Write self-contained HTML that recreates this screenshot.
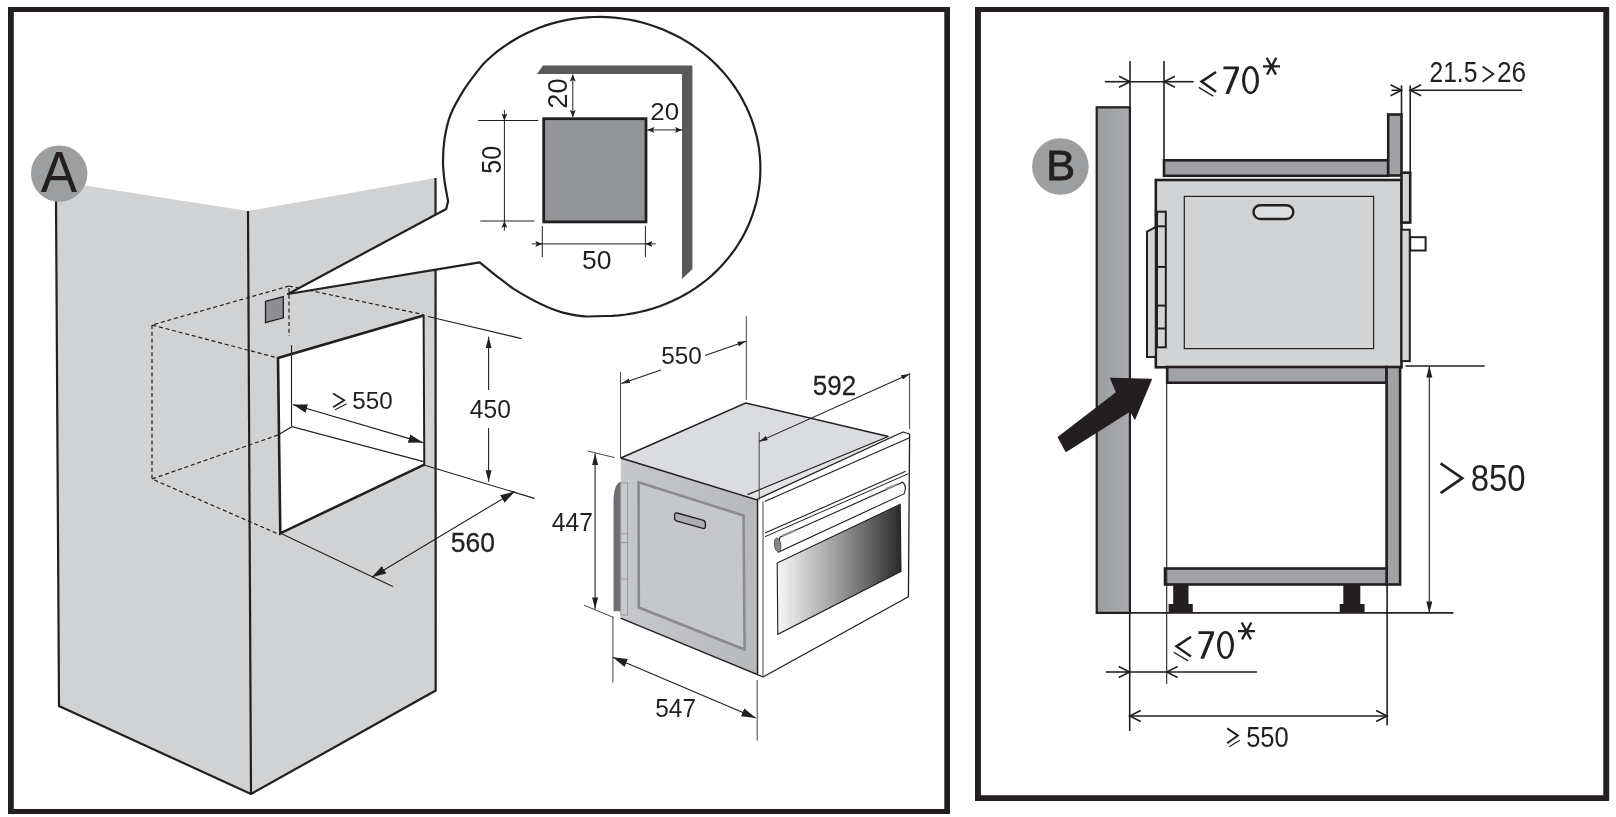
<!DOCTYPE html>
<html><head><meta charset="utf-8">
<style>
html,body{margin:0;padding:0;background:#fff;width:1616px;height:817px;overflow:hidden}
svg{display:block}
text{font-family:"Liberation Sans",sans-serif;fill:#231f20}
</style></head><body>
<svg width="1616" height="817" viewBox="0 0 1616 817">
<defs>
<marker id="af" markerUnits="userSpaceOnUse" markerWidth="15" markerHeight="9" refX="14.5" refY="4.3" orient="auto-start-reverse"><path d="M0,0 L14.5,4.3 L0,8.6 z" fill="#231f20"/></marker>
<marker id="afs" markerUnits="userSpaceOnUse" markerWidth="12" markerHeight="7" refX="11.5" refY="3" orient="auto-start-reverse"><path d="M0,0 L11.5,3 L0,6 z" fill="#231f20"/></marker>
<marker id="am" markerUnits="userSpaceOnUse" markerWidth="9" markerHeight="5" refX="8.5" refY="2.4" orient="auto-start-reverse"><path d="M0,0 L8.5,2.4 L0,4.8 z" fill="#231f20"/></marker>
<marker id="at" markerUnits="userSpaceOnUse" markerWidth="7" markerHeight="6" refX="7" refY="3" orient="auto-start-reverse"><path d="M0,0 L7,3 L0,6 L1.5,3 z" fill="#231f20"/></marker>
<marker id="ao" markerUnits="userSpaceOnUse" markerWidth="14" markerHeight="14" refX="12" refY="7" orient="auto-start-reverse"><path d="M1,1.5 L12,7 L1,12.5" fill="none" stroke="#231f20" stroke-width="1.6"/></marker>
<linearGradient id="gwall" x1="0" x2="1" y1="0" y2="0"><stop offset="0" stop-color="#9a9c9f"/><stop offset="1" stop-color="#a9abae"/></linearGradient>
<linearGradient id="gwin" x1="0" x2="1" y1="0" y2="0"><stop offset="0" stop-color="#f8f8f8"/><stop offset="0.5" stop-color="#9a9a9b"/><stop offset="1" stop-color="#2a2a2a"/></linearGradient>
<linearGradient id="gside" x1="0" x2="1" y1="0" y2="0"><stop offset="0" stop-color="#c6c7ca"/><stop offset="1" stop-color="#b8b9bc"/></linearGradient>
</defs>

<!-- frames -->
<path fill="#231f20" fill-rule="evenodd" d="M8,7 H950 V814 H8 Z M13.8,11.9 V808.9 H944.3 V11.9 Z"/>
<path fill="#231f20" fill-rule="evenodd" d="M975,7 H1609.2 V801 H975 Z M980.9,11.9 V795.2 H1603.3 V11.9 Z"/>

<!-- ============ PANEL A ============ -->
<g id="cabA">
<polygon points="56,181 248,211 251,794 59,706" fill="#d1d2d4"/>
<polygon points="248,211 435.5,178 435.7,690.5 251,794" fill="#d1d2d4"/>
<polyline points="56,200 59,706 251,794 435.7,690.5 435.5,178" fill="none" stroke="#231f20" stroke-width="2.2"/>
<line x1="248" y1="211" x2="251" y2="794" stroke="#231f20" stroke-width="2.2"/>
<!-- niche opening -->
<polygon points="278,358 423.6,315.4 424.3,464.6 280.3,533.3" fill="#fff"/>
<polyline points="423.6,315.4 278,358 280.3,533.3 424.3,464.6" fill="none" stroke="#231f20" stroke-width="2.6"/>
<line x1="423.6" y1="314.5" x2="424.3" y2="465" stroke="#231f20" stroke-width="2"/>
<!-- dashed hidden lines -->
<g stroke="#231f20" stroke-width="1.2" stroke-dasharray="4,2.8" fill="none">
<polyline points="289,286 152,325 278,358"/>
<line x1="152" y1="325" x2="152" y2="479"/>
<polyline points="278,435 152,479 280.5,535"/>
<line x1="289" y1="286" x2="423.5" y2="314.6"/>
<line x1="289" y1="288" x2="289" y2="336"/>
</g>
<g stroke="#231f20" stroke-width="1.1" fill="none">
<polyline points="278,435 292,426.7 423.6,461.6"/>
<line x1="291.5" y1="345" x2="291.5" y2="426"/>
<line x1="428" y1="316.5" x2="521.6" y2="338.6"/>
<line x1="424" y1="465" x2="534.5" y2="498.4"/>
<line x1="280" y1="533" x2="392.8" y2="586.5"/>
<line x1="292.9" y1="404.5" x2="422.9" y2="442.6" marker-start="url(#af)" marker-end="url(#af)"/>
<line x1="488.6" y1="336.7" x2="488.6" y2="390" marker-start="url(#afs)"/>
<line x1="488.6" y1="428" x2="488.6" y2="481.8" marker-end="url(#afs)"/>
<line x1="514.8" y1="491.5" x2="371.8" y2="577.2" marker-start="url(#af)" marker-end="url(#af)"/>
</g>
<polygon points="265.5,301.4 283.3,296.5 283.3,317.8 265.5,322.7" fill="#8d8e91" stroke="#231f20" stroke-width="1.3"/>
</g>
<!-- A circle -->
<circle cx="59.2" cy="173.6" r="28.2" fill="#9d9ea0"/>

<!-- bubble -->
<path d="M446.2,209 L288,294 L479.7,262.4 L494.4,274.4 C503,281 508,285 514,289.1 C530,299 550,309 562.9,312.6 C572,315 580,316.3 587.4,316.5 L605.0,316.0 L612.0,315.8 L619.0,315.3 L625.9,314.5 L632.8,313.4 L639.6,312.0 L646.4,310.4 L653.0,308.5 L659.6,306.3 L666.1,303.8 L672.4,301.1 L678.6,298.1 L684.6,294.8 L690.5,291.4 L696.2,287.6 L701.7,283.7 L707.1,279.5 L712.2,275.1 L717.1,270.4 L721.8,265.6 L726.2,260.6 L730.4,255.4 L734.4,250.1 L738.1,244.5 L741.5,238.9 L744.7,233.0 L747.6,227.1 L750.2,221.0 L752.5,214.9 L754.5,208.6 L756.3,202.3 L757.7,195.9 L758.8,189.4 L759.7,182.9 L760.2,176.3 L760.4,169.8 L760.3,163.2 L759.9,156.7 L759.2,150.1 L758.2,143.6 L756.8,137.1 L755.2,130.7 L753.3,124.4 L751.1,118.1 L748.6,112.0 L745.8,105.9 L742.7,99.9 L739.4,94.1 L735.8,88.5 L731.9,82.9 L727.8,77.6 L723.5,72.4 L718.9,67.4 L714.0,62.5 L709.0,57.9 L703.7,53.5 L698.3,49.3 L692.7,45.3 L686.8,41.6 L680.9,38.1 L674.7,34.9 L668.4,31.9 L662.0,29.1 L655.5,26.7 L648.9,24.5 L642.2,22.5 L635.4,20.9 L628.5,19.5 L621.6,18.5 L614.6,17.7 L607.6,17.1 L600.6,16.9 L593.6,17.0 L586.6,17.3 L579.7,18.0 L572.8,18.9 L565.9,20.1 L559.1,21.6 L552.4,23.4 L545.8,25.4 L539.2,27.8 L532.8,30.4 L526.6,33.2 L520.5,36.3 L514.5,39.7 L508.7,43.3 L503.1,47.1 L497.6,51.2 L492.4,55.5 L487.4,60.0 L482.6,64.7 C478.7,69.6 469.5,81.0 464.2,89.4 C458.9,97.8 453.8,106.7 450.5,114.9 C447.2,123.1 445.9,130.6 444.6,138.4 C443.4,146.2 443.0,154.8 443.0,162.0 C443.0,169.2 443.8,175.1 444.6,181.6 C445.5,188.1 447.5,197.9 448.1,201.2 Z" fill="#fff" stroke="#231f20" stroke-width="2.2" stroke-linejoin="round"/>
<polygon points="543,65.6 692.4,65.6 692.4,269 682,279 682,74.1 537,74.1" fill="#58595b"/>
<rect x="543.7" y="118.7" width="102.3" height="103.2" fill="#939598" stroke="#231f20" stroke-width="2.8"/>
<g stroke="#231f20" stroke-width="1" fill="none">
<line x1="504.4" y1="110.2" x2="504.4" y2="120.5" marker-end="url(#at)"/>
<line x1="504.4" y1="120.5" x2="504.4" y2="221"/>
<line x1="504.4" y1="230.7" x2="504.4" y2="221" marker-end="url(#at)"/>
<line x1="478.2" y1="120.5" x2="538.2" y2="120.5"/>
<line x1="480.3" y1="221" x2="534.6" y2="221"/>
<line x1="572.8" y1="74.5" x2="572.8" y2="117" marker-start="url(#at)" marker-end="url(#at)"/>
<line x1="647.4" y1="129.9" x2="682" y2="129.9" marker-start="url(#at)" marker-end="url(#at)"/>
<line x1="531.7" y1="243.9" x2="542.3" y2="243.9" marker-end="url(#at)"/>
<line x1="542.3" y1="243.9" x2="645.4" y2="243.9"/>
<line x1="655.7" y1="243.9" x2="645.4" y2="243.9" marker-end="url(#at)"/>
<line x1="542.3" y1="226" x2="542.3" y2="257"/>
<line x1="645.4" y1="226" x2="645.4" y2="257"/>
</g>

<!-- oven A -->
<g id="ovenA">
<polygon points="620.8,458 745.6,403 888.4,436.5 903,432 909.6,434 909.6,438 764.7,501.4 758,499" fill="#dbdcdf"/>
<polygon points="747.6,494.6 888.4,436.5 903,432 758.7,498" fill="#e2e3e5"/>
<polyline points="620.8,458 745.6,403 888.4,436.5" fill="none" stroke="#231f20" stroke-width="1.5"/>
<polygon points="620.8,458 757.6,500 757.6,674.7 620.6,618.1" fill="url(#gside)"/>
<polyline points="620.8,458 757.6,500 757.6,674.7 620.6,618.1" fill="none" stroke="#231f20" stroke-width="1.5"/>
<polygon points="638.6,482.3 743.5,515.5 744.6,649.5 638.8,607.5" fill="#c6c7ca" stroke="#8b8c8f" stroke-width="2.6"/>
<path d="M674.6,514.8 Q674.6,512.4 677,513 L702.8,520.2 Q705.4,520.9 705.4,523.4 L705.4,526.6 Q705.4,529 703,528.4 L677,521.2 Q674.6,520.6 674.6,518.3 Z" fill="#adaeb1" stroke="#231f20" stroke-width="1.3"/>
<path d="M613.5,500 Q614,484 620.8,481.6 L620.8,611.3 L613.5,611.3 Z" fill="#6e6f72"/>
<rect x="620.8" y="482.8" width="6.8" height="132.2" fill="#c9cacc" stroke="#9a9b9e" stroke-width="1"/>
<g stroke="#9a9b9e" stroke-width="1"><line x1="621" y1="533.7" x2="627.6" y2="533.7"/><line x1="621" y1="542.5" x2="627.6" y2="542.5"/><line x1="621" y1="579" x2="627.6" y2="579"/></g>
<polygon points="757.6,499 903,432 909.6,434 908.4,596.8 763,677 757.6,674.7" fill="#fff" stroke="#231f20" stroke-width="1.3" stroke-linejoin="round"/>
<line x1="747.6" y1="494.6" x2="888.4" y2="436.5" stroke="#231f20" stroke-width="1.2"/>
<line x1="764.7" y1="501.4" x2="909" y2="438" stroke="#231f20" stroke-width="1.1"/>
<line x1="763" y1="501.4" x2="763" y2="677" stroke="#555" stroke-width="1.1"/>
<line x1="765" y1="533" x2="905.7" y2="471.2" stroke="#231f20" stroke-width="1.1"/>
<line x1="765" y1="536.7" x2="908.4" y2="473.7" stroke="#231f20" stroke-width="1"/>
<path d="M779.7,537.3 L902.6,482.2 Q907.5,486 903.9,493.9 L778.5,552 Z" fill="#fbfbfb" stroke="#231f20" stroke-width="1.1"/>
<path d="M782,536 L795,530.5" stroke="#8d8e91" stroke-width="2"/>
<path d="M886,489 L897,484.5" stroke="#8d8e91" stroke-width="2"/>
<ellipse cx="777.6" cy="545" rx="3.2" ry="7" fill="#85868a" stroke="#444" stroke-width="0.8" transform="rotate(-8 777.6 545)"/>
<polygon points="777.2,563 900.2,504.3 901,571.3 777.8,634.3" fill="url(#gwin)" stroke="#231f20" stroke-width="1.1"/>
</g>
<g stroke="#231f20" stroke-width="1.1" fill="none">
<g stroke="#444" stroke-width="1">
<line x1="620.5" y1="371.8" x2="620.5" y2="458"/>
<line x1="746.3" y1="316.2" x2="746.3" y2="399.9"/>
<line x1="909.6" y1="372.8" x2="909.6" y2="429"/>
<line x1="759.2" y1="432.1" x2="759.2" y2="500"/>
<line x1="587.7" y1="451" x2="614.6" y2="457.6"/>
<line x1="584" y1="605.2" x2="613.4" y2="617.4"/>
<line x1="612.9" y1="616.7" x2="612.9" y2="682.7"/>
<line x1="757.2" y1="680" x2="757.2" y2="740.6"/>
</g>
<line x1="621.5" y1="383.6" x2="661" y2="370" marker-start="url(#am)"/>
<line x1="705" y1="355.6" x2="746" y2="341.2" marker-end="url(#am)"/>
<line x1="759.2" y1="441.5" x2="909.6" y2="373.9" marker-start="url(#am)" marker-end="url(#am)"/>
<line x1="595.1" y1="453.5" x2="595.1" y2="608.9" marker-start="url(#afs)" marker-end="url(#afs)"/>
<line x1="612.9" y1="657.3" x2="755.9" y2="718" marker-start="url(#af)" marker-end="url(#af)"/>
</g>

<!-- ============ PANEL B ============ -->
<g id="panelB">
<rect x="1096.7" y="107.3" width="33.2" height="505.6" fill="url(#gwall)" stroke="#231f20" stroke-width="2.2"/>
<circle cx="1060.4" cy="166.5" r="28.3" fill="#9d9ea0"/>
<rect x="1164" y="160.3" width="224.2" height="15.5" fill="#a1a2a5" stroke="#231f20" stroke-width="2.6"/>
<rect x="1388.2" y="114.5" width="13.3" height="61" fill="#a1a2a5" stroke="#231f20" stroke-width="2.6"/>
<rect x="1155.8" y="180" width="245.7" height="187.3" fill="#d1d3d4" stroke="#231f20" stroke-width="2.6"/>
<rect x="1184.3" y="196.4" width="189.3" height="152.2" fill="#d1d3d4" stroke="#231f20" stroke-width="1.2"/>
<rect x="1253.5" y="205.2" width="39.8" height="13.8" rx="6.9" fill="#dcdddf" stroke="#231f20" stroke-width="2.4"/>
<polygon points="1147,231.6 1155.8,226.9 1155.8,357 1147,357" fill="#d1d3d4" stroke="#231f20" stroke-width="2"/>
<rect x="1157" y="211.7" width="8.8" height="135.6" fill="#d1d3d4" stroke="#231f20" stroke-width="2"/>
<g stroke="#231f20" stroke-width="2"><line x1="1157" y1="226.3" x2="1165.8" y2="226.3"/><line x1="1157" y1="266.9" x2="1165.8" y2="266.9"/><line x1="1157" y1="305.6" x2="1165.8" y2="305.6"/><line x1="1157" y1="328.5" x2="1165.8" y2="328.5"/></g>
<rect x="1401.5" y="172.7" width="8.7" height="49.9" fill="#d1d3d4" stroke="#231f20" stroke-width="2.6"/>
<rect x="1401.5" y="229.7" width="8.3" height="131.4" fill="#d1d3d4" stroke="#231f20" stroke-width="2"/>
<rect x="1410.2" y="237.2" width="15.4" height="13.3" fill="#fff" stroke="#231f20" stroke-width="2"/>
<rect x="1167.2" y="367" width="219.4" height="15.7" fill="#a1a2a5" stroke="#231f20" stroke-width="2.6"/>
<rect x="1386.6" y="367" width="13.5" height="217.5" fill="#a1a2a5" stroke="#231f20" stroke-width="2.6"/>
<rect x="1165" y="568.5" width="221.6" height="16" fill="#a1a2a5" stroke="#231f20" stroke-width="2.6"/>
<g fill="#231f20">
<rect x="1173.2" y="584.5" width="15.3" height="21"/><rect x="1168.6" y="604" width="24.2" height="9"/>
<rect x="1343.3" y="584.5" width="17" height="21"/><rect x="1339.7" y="604" width="24.9" height="9"/>
</g>
<polygon points="1058.3,437.2 1116.6,392.6 1110.6,378.3 1151.3,379.4 1134.8,419 1130.4,410.7 1066,451.5" fill="#231f20" stroke="#231f20" stroke-width="1.2" stroke-linejoin="round"/>
<g stroke="#231f20" stroke-width="1.6" fill="none">
<line x1="1096" y1="612.9" x2="1453.4" y2="612.9"/>
<line x1="1130" y1="61" x2="1130" y2="107"/>
<line x1="1164" y1="61" x2="1164" y2="161"/>
<line x1="1104.8" y1="81.7" x2="1130" y2="81.7" marker-end="url(#ao)"/>
<line x1="1130" y1="81.7" x2="1164" y2="81.7"/>
<line x1="1193.7" y1="81.7" x2="1164" y2="81.7" marker-end="url(#ao)"/>
<line x1="1401.5" y1="85.4" x2="1401.5" y2="114"/>
<line x1="1410.2" y1="85.4" x2="1410.2" y2="172"/>
<line x1="1391.5" y1="90.3" x2="1401.5" y2="90.3" marker-end="url(#ao)"/>
<line x1="1522.1" y1="90.3" x2="1410.2" y2="90.3" marker-end="url(#ao)"/>
<line x1="1405.5" y1="366" x2="1484.7" y2="366"/>
<line x1="1429.3" y1="366" x2="1429.3" y2="612.9" stroke-width="1.1" marker-start="url(#afs)" marker-end="url(#afs)"/>
<line x1="1129.7" y1="612.7" x2="1129.7" y2="731"/>
<line x1="1166.7" y1="382.7" x2="1166.7" y2="683.7" stroke-width="1.1"/>
<line x1="1387.1" y1="584.5" x2="1387.1" y2="725.5"/>
<line x1="1105.9" y1="672" x2="1129.7" y2="672" marker-end="url(#ao)"/>
<line x1="1129.7" y1="672" x2="1166.7" y2="672"/>
<line x1="1257" y1="672" x2="1166.7" y2="672" marker-end="url(#ao)"/>
<line x1="1129.7" y1="716" x2="1387.1" y2="716" marker-start="url(#ao)" marker-end="url(#ao)"/>
</g>
</g>

<!-- custom glyphs -->
<g fill="none" stroke="#231f20" stroke-linecap="butt" stroke-linejoin="miter">
<polyline points="333.1,393.4 344.2,400.3 333.1,407.3" stroke-width="1.8"/>
<line x1="335" y1="409.8" x2="346.6" y2="403.8" stroke-width="1.1"/>
<polyline points="1227.2,728.4 1237.9,735.6 1227.2,743.3" stroke-width="1.9"/>
<line x1="1229.2" y1="746.7" x2="1239.8" y2="740.2" stroke-width="1.1"/>
<polyline points="1440.6,463.4 1462.2,478.2 1440.6,493.1" stroke-width="2.7"/>
<polyline points="1482.6,66.4 1493.4,74 1482.6,81.7" stroke-width="1.8"/>
</g>

<g id="g70">
<polyline points="1216,72.0 1201.5,81.6 1216,91.8" fill="none" stroke="#231f20" stroke-width="2.5"/>
<line x1="1198.7" y1="87.4" x2="1213.2" y2="96.1" stroke="#231f20" stroke-width="1.3"/>
<polygon points="1223.4,66.4 1238.9,66.4 1238.9,69.4 1229,93.9 1225.3,93.9 1235.3,69.2 1223.4,69.2" fill="#231f20"/>
<path fill-rule="evenodd" fill="#231f20" d="M1242,80.15 A8.5,14.05 0 1 0 1259,80.15 A8.5,14.05 0 1 0 1242,80.15 Z M1245.1,80.2 A5.4,11.6 0 1 0 1255.9,80.2 A5.4,11.6 0 1 0 1245.1,80.2 Z"/>
<path d="M1263,66.4 H1280 M1266.7,57.7 L1275.9,74.6 M1276.3,57.7 L1267.1,74.6" stroke="#231f20" stroke-width="2.3" fill="none"/>
</g>
<use href="#g70" transform="translate(-25,564.8)"/>
<g fill="#231f20" opacity="0.999">
<text transform="matrix(0.2421 0 0 0.2479 352.33 409.35)" font-size="100">550</text>
<text transform="matrix(0.2460 0 0 0.2493 469.81 417.55)" font-size="100">450</text>
<text transform="matrix(0.2648 0 0 0.2718 450.84 551.93)" font-size="100" stroke="#231f20" stroke-width="1">560</text>
<text transform="matrix(0.2434 0 0 0.2479 661.23 364.35)" font-size="100">550</text>
<text transform="matrix(0.2595 0 0 0.2676 812.86 394.63)" font-size="100" stroke="#231f20" stroke-width="1">592</text>
<text transform="matrix(0.2463 0 0 0.2647 551.81 531.16)" font-size="100">447</text>
<text transform="matrix(0.2443 0 0 0.2571 655.22 716.74)" font-size="100">547</text>
<text transform="matrix(0.2459 0 0 0.2901 1429.47 82.11)" font-size="100">21.5</text>
<text transform="matrix(0.2618 0 0 0.2901 1496.99 82.11)" font-size="100">26</text>
<text transform="matrix(0.3289 0 0 0.3746 1470.78 491.13)" font-size="100">850</text>
<text transform="matrix(0.2553 0 0 0.2901 1246.18 746.71)" font-size="100">550</text>
<text transform="matrix(0.5455 0 0 0.5754 40.80 191.70)" font-size="100">A</text>
<text transform="matrix(0.4321 0 0 0.4174 1046.14 180.50)" font-size="100" stroke="#231f20" stroke-width="2">B</text>
<text transform="matrix(0.2588 0 0 0.2394 650.31 120.26)" font-size="100">20</text>
<text transform="matrix(0.2650 0 0 0.2493 582.04 268.65)" font-size="100">50</text>
<text transform="matrix(0 -0.2515 0.2676 0 500.53 173.81)" font-size="100">50</text>
<text transform="matrix(0 -0.2735 0.2690 0 566.63 108.67)" font-size="100">20</text>
</g>
</svg>
</body></html>
